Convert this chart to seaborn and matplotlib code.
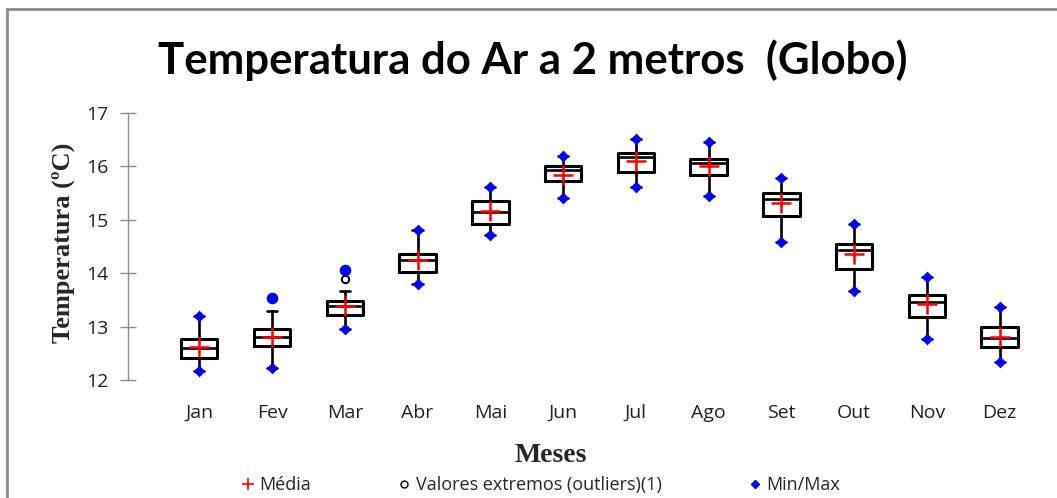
import numpy as np
import pandas as pd
import matplotlib.pyplot as plt
import matplotlib.lines as mlines
import seaborn as sns

# Box plot statistics (°C)
months = ['Jan', 'Fev', 'Mar', 'Abr', 'Mai', 'Jun', 'Jul', 'Ago', 'Set', 'Out', 'Nov', 'Dez']
q1 = [12.41, 12.63, 13.21, 14.03, 14.92, 15.72, 15.89, 15.83, 15.08, 14.08, 13.18, 12.62]
median = [12.59, 12.80, 13.38, 14.24, 15.15, 15.94, 16.18, 16.06, 15.39, 14.44, 13.47, 12.79]
q3 = [12.76, 12.95, 13.48, 14.36, 15.36, 16.00, 16.25, 16.14, 15.50, 14.54, 13.59, 12.99]
whis_low = [12.16, 12.23, 12.96, 13.79, 14.72, 15.41, 15.62, 15.45, 14.58, 13.67, 12.76, 12.33]
whis_high = [13.19, 13.30, 13.66, 14.81, 15.61, 16.20, 16.51, 16.45, 15.79, 14.93, 13.93, 13.37]
mean = [12.61, 12.81, 13.39, 14.25, 15.16, 15.84, 16.11, 16.00, 15.31, 14.36, 13.43, 12.81]
min_vals = [12.16, 12.23, 12.96, 13.79, 14.72, 15.41, 15.62, 15.45, 14.58, 13.67, 12.76, 12.33]
max_vals = [13.19, 13.54, 14.06, 14.81, 15.61, 16.20, 16.51, 16.45, 15.79, 14.93, 13.93, 13.37]
outliers = [[], [], [13.89], [], [], [], [], [], [], [], [], []]

sns.set_theme(style="white")
plt.rcParams['font.family'] = ['Open Sans', 'DejaVu Sans']

fig = plt.figure(figsize=(10.57, 4.98), dpi=100)
ax = fig.add_axes([128 / 1057, 118 / 498, (1036 - 128) / 1057, (380 - 113) / 498])

pos = np.arange(len(months))
stats = []
for i, m in enumerate(months):
    stats.append({'label': m, 'q1': q1[i], 'med': median[i], 'q3': q3[i],
                  'whislo': whis_low[i], 'whishi': whis_high[i], 'fliers': []})

ax.bxp(stats, positions=pos, widths=0.5, showfliers=False, capwidths=0.14,
       boxprops=dict(color='black', linewidth=2.2),
       medianprops=dict(color='black', linewidth=1.9),
       whiskerprops=dict(color='black', linewidth=1.9),
       capprops=dict(color='black', linewidth=1.9),
       manage_ticks=False, zorder=2)

# outliers (open black circles)
out_x = [pos[i] for i, o in enumerate(outliers) for _ in o]
out_y = [v for o in outliers for v in o]
ax.scatter(out_x, out_y, s=28, facecolor='white', edgecolor='black', linewidth=1.4, zorder=3)

# min / max: diamonds, circles when they are outliers
mm = pd.DataFrame({'x': np.concatenate([pos, pos]),
                   'y': min_vals + max_vals,
                   'hi': whis_low + whis_high})
mm['is_out'] = (mm['y'] - mm['hi']).abs() > 0.01
sns.scatterplot(data=mm[~mm['is_out']], x='x', y='y', marker='D', s=36, color='#0000ee',
                edgecolor='#0000ee', linewidth=0, ax=ax, zorder=4)
sns.scatterplot(data=mm[mm['is_out']], x='x', y='y', marker='o', s=70, color='#0000ee',
                edgecolor='#0000ee', linewidth=0, ax=ax, zorder=4)

# means
mdf = pd.DataFrame({'x': pos, 'y': mean})
sns.scatterplot(data=mdf, x='x', y='y', marker='+', s=200, color='#ff0000', linewidth=1.8,
                ax=ax, zorder=5)

ax.set_xlim(-0.98, 11.5)
ax.set_ylim(12, 17)
ax.set_xticks(pos)
ax.set_xticklabels(months)
ax.set_yticks([12, 13, 14, 15, 16, 17])
for s in ['top', 'right', 'bottom']:
    ax.spines[s].set_visible(False)
ax.spines['left'].set_color('#8c8c8c')
ax.spines['left'].set_linewidth(1.0)
ax.tick_params(axis='y', left=True, direction='inout', length=12, width=1.0, color='#8c8c8c',
               labelsize=14, pad=8, labelcolor='#222222')
ax.tick_params(axis='x', bottom=False, length=0, labelsize=14, pad=17, labelcolor='#222222')
ax.set_xlabel('')
ax.set_ylabel('Temperatura (ºC)', family='Liberation Serif', fontsize=19, fontweight='bold')
ax.yaxis.set_label_coords(-0.058, 0.515)

fig.text(0.504, 0.88, 'Temperatura do Ar a 2 metros  (Globo)', ha='center', va='center',
         family=['Lato', 'DejaVu Sans'], fontsize=31.5, fontweight='bold', color='black')
fig.text(551 / 1057, 1 - 455 / 498, 'Meses', ha='center', va='center',
         family='Liberation Serif', fontsize=20, fontweight='bold')

# legend
h_mean = mlines.Line2D([], [], color='#ff0000', marker='+', linestyle='None', markersize=9,
                       markeredgewidth=1.2)
h_out = mlines.Line2D([], [], color='black', marker='o', linestyle='None', markersize=5,
                      markerfacecolor='white', markeredgewidth=1.0)
h_mm = mlines.Line2D([], [], color='#0000ee', marker='D', linestyle='None', markersize=4)
fig.legend([h_mean, h_out, h_mm], ['Média', 'Valores extremos (outliers)(1)', 'Min/Max'],
           loc='center', bbox_to_anchor=(541 / 1057, 1 - 485 / 498), ncol=3, frameon=False,
           fontsize=13, handlelength=0.7, handletextpad=0.3, columnspacing=4.8)

# chart frame (top and left edges)
fig.add_artist(mlines.Line2D([7 / 1057, 7 / 1057], [0, 1 - 9 / 498], transform=fig.transFigure,
                             color='#8c8c8c', linewidth=2))
fig.add_artist(mlines.Line2D([7 / 1057, 1], [1 - 9 / 498, 1 - 9 / 498], transform=fig.transFigure,
                             color='#8c8c8c', linewidth=2))

fig.savefig('out.png', dpi=100)
